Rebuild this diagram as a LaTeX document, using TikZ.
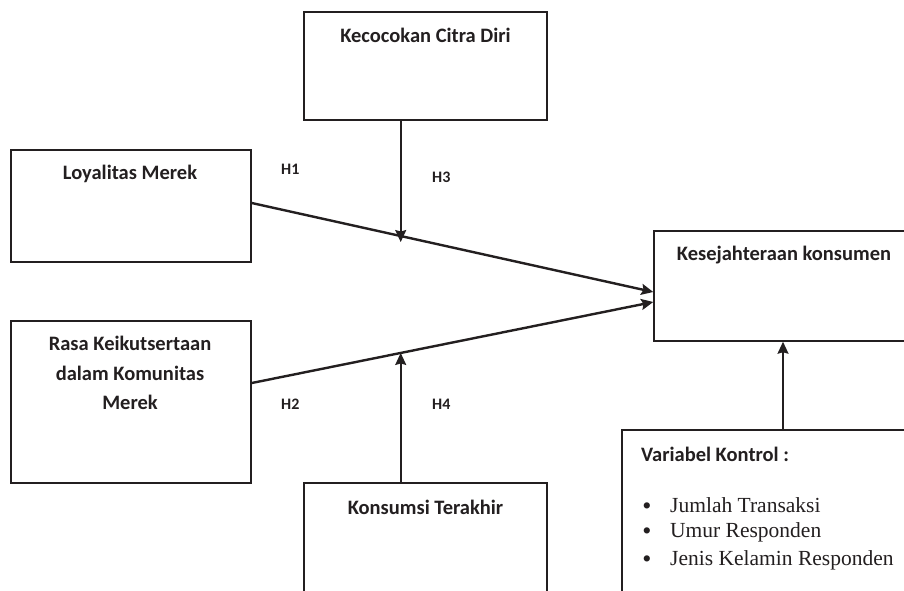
\documentclass[tikz,border=0pt]{standalone}
\usepackage{fontspec}
\setmainfont{Carlito}
\newfontfamily\tnr{Liberation Serif}
\usetikzlibrary{arrows.meta,calc}
\definecolor{ink}{HTML}{231F20}
\tikzset{
  box/.style={draw=ink, line width=1.5pt, rectangle, inner sep=0pt},
  lbl/.style={font=\fontsize{20.5}{24}\selectfont\bfseries, text=ink, inner sep=0pt},
  hlbl/.style={font=\fontsize{16}{18}\selectfont\bfseries, text=ink, inner sep=0pt, anchor=base west},
  itm/.style={font=\tnr\fontsize{21.5}{24}\selectfont, text=ink, inner sep=0pt, anchor=base west},
  bul/.style={font=\tnr\fontsize{26}{28}\selectfont, text=ink, inner sep=0pt, anchor=base},
  mainarrow/.style={draw=ink, line width=2.4pt, -{Stealth[length=12pt,width=11pt,inset=2pt]}},
  modarrow/.style={draw=ink, line width=1.6pt, -{Stealth[length=12pt,width=11pt,inset=1.5pt]}}
}
\begin{document}
\begin{tikzpicture}[x=1pt,y=-1pt]
\useasboundingbox (0,0) rectangle (904,590);
\clip (0,0) rectangle (904,590);
\fill[white] (0,0) rectangle (904,590);
% boxes
\node[box, minimum width=243pt, minimum height=108pt] (kec) at (425.5,66) {};
\node[box, minimum width=240pt, minimum height=112pt] (loy) at (131,206) {};
\node[box, minimum width=240pt, minimum height=162pt] (rasa) at (131,402) {};
\node[box, minimum width=258pt, minimum height=110pt] (kes) at (783,286) {};
\node[box, minimum width=243pt, minimum height=120pt] (kon) at (425.5,543) {};
\node[box, minimum width=322pt, minimum height=170pt] (var) at (783,515) {};
% texts
\node[lbl, anchor=base] (tkec) at (425.5,42) {Kecocokan Citra Diri};
\node[lbl, anchor=base] (tloy) at (130,179) {Loyalitas Merek};
\node[lbl, anchor=base] (tkes) at (784,260) {Kesejahteraan konsumen};
\node[lbl, anchor=base] (trasa1) at (130,350) {Rasa Keikutsertaan};
\node[lbl, anchor=base] (trasa2) at (130,380) {dalam Komunitas};
\node[lbl, anchor=base] (trasa3) at (130,409) {Merek};
\node[lbl, anchor=base] (tkon) at (425.5,514) {Konsumsi Terakhir};
\node[lbl, anchor=base west] (tvar) at (641,461) {Variabel Kontrol :};
\node[bul] (b1) at (647,514) {•};
\node[itm] (i1) at (670,512) {Jumlah Transaksi};
\node[bul] (b2) at (647,539) {•};
\node[itm] (i2) at (670,537) {Umur Responden};
\node[bul] (b3) at (647,567) {•};
\node[itm] (i3) at (670,565) {Jenis Kelamin Responden};
% H labels
\node[hlbl] (h1) at (281,174) {H1};
\node[hlbl] (h3) at (432,182) {H3};
\node[hlbl] (h2) at (281,409) {H2};
\node[hlbl] (h4) at (432,409) {H4};
% connectors
\coordinate (s1) at ([yshift=3pt]loy.east);
\coordinate (e1) at ([yshift=-6pt]kes.west);
\coordinate (s2) at ([yshift=19pt]rasa.east);
\coordinate (e2) at ([yshift=-16pt]kes.west);
\path (s1) -- (e1) coordinate[pos=0.371] (m1);
\path (s2) -- (e2) coordinate[pos=0.371] (m2);
\draw[mainarrow] (s1) -- (e1);
\draw[mainarrow] (s2) -- (e2);
\draw[modarrow] (kec.south -| m1) -- ([yshift=-6pt]m1);
\draw[modarrow] (kon.north -| m2) -- (m2);
\draw[modarrow] (var.north) -- (kes.south);
\end{tikzpicture}
\end{document}
